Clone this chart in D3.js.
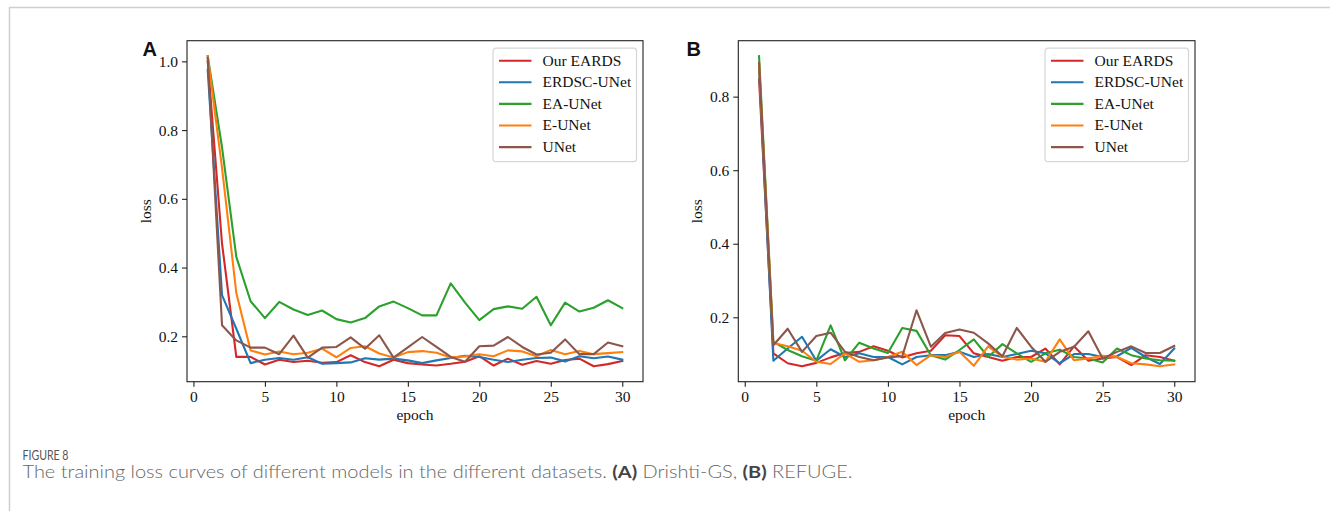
<!DOCTYPE html>
<html><head><meta charset="utf-8">
<script src="https://cdn.jsdelivr.net/npm/d3@7"></script>
<style>body{margin:0;background:#fff}svg{display:block}</style>
</head><body>
<svg id="c" width="1330" height="511"></svg>
<script>
const epochs = d3.range(1, 31);
const seriesNames = ["Our EARDS", "ERDSC-UNet", "EA-UNet", "E-UNet", "UNet"];
const seriesColors = ["#d62728", "#1f77b4", "#2ca02c", "#ff7f0e", "#8c564b"];

// Panel A (Drishti-GS)
const A_ourEARDS = [1.000,0.470,0.140,0.140,0.118,0.132,0.125,0.129,0.123,0.125,0.145,0.125,0.113,0.132,0.122,0.118,0.115,0.120,0.126,0.142,0.115,0.135,0.117,0.128,0.120,0.131,0.135,0.113,0.119,0.128];
const A_erdsc    = [0.975,0.320,0.222,0.122,0.132,0.137,0.132,0.139,0.120,0.122,0.124,0.136,0.132,0.135,0.130,0.122,0.130,0.137,0.143,0.140,0.132,0.125,0.132,0.137,0.138,0.127,0.142,0.136,0.141,0.132];
const A_eaunet   = [1.015,0.750,0.431,0.302,0.253,0.300,0.278,0.262,0.275,0.250,0.240,0.253,0.287,0.301,0.282,0.261,0.261,0.354,0.298,0.247,0.279,0.287,0.280,0.315,0.232,0.298,0.272,0.283,0.305,0.282];
const A_eunet    = [1.015,0.690,0.326,0.159,0.147,0.156,0.148,0.152,0.164,0.139,0.166,0.171,0.150,0.138,0.154,0.157,0.152,0.138,0.142,0.148,0.142,0.159,0.156,0.142,0.160,0.148,0.157,0.148,0.151,0.154];
const A_unet     = [1.010,0.232,0.188,0.167,0.167,0.148,0.202,0.138,0.167,0.169,0.197,0.164,0.203,0.138,0.168,0.198,0.169,0.140,0.126,0.171,0.173,0.198,0.169,0.147,0.152,0.191,0.148,0.148,0.182,0.171];

// Panel B (REFUGE)
const B_ourEARDS = [0.847,0.102,0.075,0.067,0.076,0.091,0.103,0.106,0.121,0.109,0.091,0.102,0.109,0.151,0.149,0.102,0.092,0.082,0.092,0.092,0.115,0.072,0.121,0.082,0.088,0.092,0.070,0.097,0.092,0.082];
const B_erdsc    = [0.874,0.082,0.115,0.147,0.082,0.113,0.092,0.102,0.092,0.092,0.072,0.092,0.097,0.097,0.106,0.092,0.100,0.092,0.100,0.109,0.102,0.075,0.100,0.100,0.092,0.094,0.117,0.092,0.073,0.115];
const B_eaunet   = [0.910,0.133,0.111,0.094,0.082,0.178,0.083,0.131,0.115,0.103,0.171,0.163,0.097,0.085,0.111,0.140,0.092,0.127,0.102,0.079,0.102,0.112,0.092,0.088,0.077,0.115,0.097,0.088,0.083,0.082];
const B_eunet    = [0.890,0.130,0.121,0.109,0.079,0.073,0.102,0.079,0.083,0.092,0.106,0.070,0.097,0.092,0.106,0.068,0.121,0.092,0.085,0.088,0.079,0.140,0.083,0.088,0.095,0.092,0.075,0.072,0.067,0.072];
const B_unet     = [0.892,0.124,0.169,0.106,0.149,0.158,0.106,0.092,0.083,0.091,0.094,0.219,0.120,0.157,0.167,0.158,0.129,0.094,0.171,0.120,0.079,0.106,0.120,0.162,0.088,0.106,0.121,0.103,0.103,0.122];

const xTicks = [0, 5, 10, 15, 20, 25, 30];
const yTicksA = [0.2, 0.4, 0.6, 0.8, 1.0];
const yTicksB = [0.2, 0.4, 0.6, 0.8];

const svg = d3.select("#c");
const serif = "'Liberation Serif','Times New Roman',serif";

// outer frame
svg.append("path").attr("d", "M9.5,520 V7.5 H1340").attr("fill", "none")
   .attr("stroke", "#cfcfcf").attr("stroke-width", 1.5);

function panel(opts) {
  const {x0, x1, y0, y1, data, yTicks, letter} = opts;
  const g = svg.append("g");
  const x = d3.scaleLinear().domain([1 - 0.05 * 29, 30 + 0.05 * 29]).range([x0, x1]);
  const all = data.flat();
  const [mn, mx] = d3.extent(all);
  const pad = (mx - mn) * 0.05;
  const y = d3.scaleLinear().domain([mn - pad, mx + pad]).range([y1, y0]);

  const line = d3.line().x((d, i) => x(epochs[i])).y(d => y(d));
  data.forEach((s, k) => {
    g.append("path").datum(s).attr("d", line).attr("fill", "none")
      .attr("stroke", seriesColors[k]).attr("stroke-width", 2.1)
      .attr("stroke-linejoin", "round").attr("stroke-linecap", "square");
  });

  g.append("rect").attr("x", x0).attr("y", y0).attr("width", x1 - x0).attr("height", y1 - y0)
    .attr("fill", "none").attr("stroke", "#222").attr("stroke-width", 1.1);

  const xa = g.append("g").attr("transform", `translate(0,${y1})`)
    .call(d3.axisBottom(x).tickValues(xTicks).tickSize(5).tickPadding(4).tickFormat(d3.format("d")));
  const ya = g.append("g").attr("transform", `translate(${x0},0)`)
    .call(d3.axisLeft(y).tickValues(yTicks).tickSize(5).tickPadding(4).tickFormat(d3.format(".1f")));
  [xa, ya].forEach(a => {
    a.attr("font-family", serif).attr("font-size", 15);
    a.select(".domain").remove();
    a.selectAll("line").attr("stroke", "#222").attr("stroke-width", 1.1);
    a.selectAll("text").style("font-family", serif).style("font-size", "15.5px").attr("fill", "#111");
  });

  g.append("text").attr("x", (x0 + x1) / 2).attr("y", y1 + 38)
    .attr("text-anchor", "middle").style("font-family", serif).style("font-size", "15.5px")
    .attr("fill", "#111").text("epoch");
  g.append("text").attr("transform", `translate(${x0 - 36},${(y0 + y1) / 2}) rotate(-90)`)
    .attr("text-anchor", "middle").style("font-family", serif).style("font-size", "15.5px")
    .attr("fill", "#111").text("loss");

  g.append("text").attr("x", opts.lx).attr("y", 56).style("font-family", "'Liberation Sans',Arial,sans-serif")
    .attr("font-weight", "bold").style("font-size", "20px").attr("fill", "#111").text(letter);

  const lw = 143.5, lh = 113.5;
  const lgx = x1 - 6.5 - lw, lgy = y0 + 7.5;
  const lg = g.append("g").attr("transform", `translate(${lgx},${lgy})`);
  lg.append("rect").attr("width", lw).attr("height", lh).attr("rx", 3)
    .attr("fill", "#fff").attr("fill-opacity", 0.85).attr("stroke", "#d6d6d6").attr("stroke-width", 1.2);
  seriesNames.forEach((n, k) => {
    const yy = 12.5 + k * 21.6;
    lg.append("line").attr("x1", 6).attr("x2", 38.5).attr("y1", yy).attr("y2", yy)
      .attr("stroke", seriesColors[k]).attr("stroke-width", 2.1);
    lg.append("text").attr("x", 49.5).attr("y", yy + 5).style("font-family", serif)
      .style("font-size", "15.5px").attr("fill", "#111").text(n);
  });
}

panel({x0: 187, x1: 643, y0: 40.7, y1: 381.7, letter: "A", lx: 142.5, yTicks: yTicksA,
       data: [A_ourEARDS, A_erdsc, A_eaunet, A_eunet, A_unet]});
panel({x0: 738.3, x1: 1195, y0: 40.7, y1: 381.7, letter: "B", lx: 686.5, yTicks: yTicksB,
       data: [B_ourEARDS, B_erdsc, B_eaunet, B_eunet, B_unet]});

// caption
const capFont = "Lato,'Open Sans',sans-serif";
svg.append("text").attr("x", 22.5).attr("y", 459.5).style("font-family", capFont)
  .style("font-size", "13.5px").attr("fill", "#555")
  .attr("textLength", 46).attr("lengthAdjust", "spacingAndGlyphs").text("FIGURE 8");
const cap = svg.append("text").attr("x", 22.5).attr("y", 477.5).style("font-family", capFont)
  .style("font-size", "17px").style("font-weight", 300).attr("fill", "#666")
  .attr("textLength", 830).attr("lengthAdjust", "spacingAndGlyphs");
cap.append("tspan").text("The training loss curves of different models in the different datasets. ");
cap.append("tspan").style("font-weight", 700).attr("fill", "#444").text("(A)");
cap.append("tspan").text(" Drishti-GS, ");
cap.append("tspan").style("font-weight", 700).attr("fill", "#444").text("(B)");
cap.append("tspan").text(" REFUGE.");
</script>
</body></html>
